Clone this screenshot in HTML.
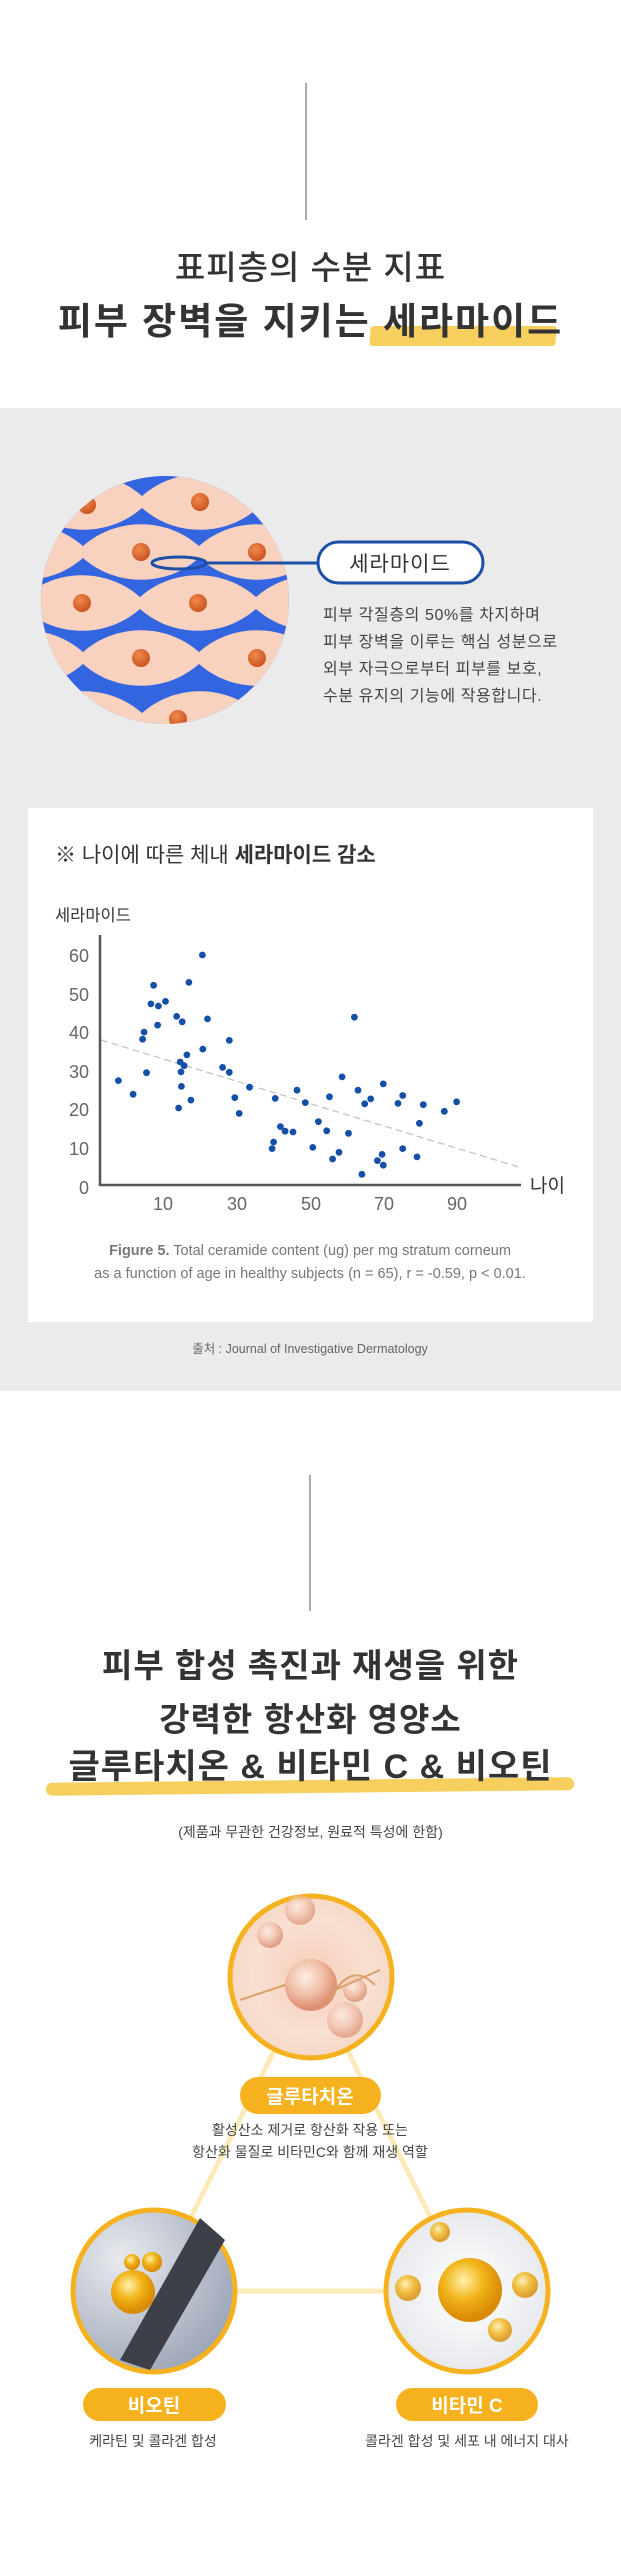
<!DOCTYPE html>
<html><head><meta charset="utf-8">
<style>
*{margin:0;padding:0;box-sizing:border-box}
body{width:621px;height:2560px;position:relative;background:#fff;font-family:"Liberation Sans","Noto Sans CJK KR",sans-serif;color:#333;overflow:hidden}
.a{position:absolute}
.c{position:absolute;left:0;width:621px;text-align:center;white-space:nowrap}
.t{font-weight:700;color:#333}
</style></head><body>
<div class="a" style="left:305px;top:83px;width:2px;height:137px;background:#aaa"></div>
<div class="c t" style="top:248px;font-size:33px;font-weight:500;line-height:40px;letter-spacing:1px">표피층의 수분 지표</div>
<div class="a" style="left:370px;top:326px;width:186px;height:20px;background:#f7cf5e;transform:skewX(-4deg);border-radius:3px"></div>
<div class="c t" style="top:300px;font-size:37px;line-height:44px;letter-spacing:2px">피부 장벽을 지키는 세라마이드</div>

<div class="a" style="left:0;top:408px;width:621px;height:983px;background:#ebebeb"></div>
<svg class="a" style="left:0;top:408px" width="621" height="330" viewBox="0 408 621 330">
<defs><clipPath id="cc"><circle cx="165" cy="600" r="124"/></clipPath>
<radialGradient id="dot" cx="0.4" cy="0.35" r="0.7"><stop offset="0" stop-color="#f08a4b"/><stop offset="1" stop-color="#c8501f"/></radialGradient>
<path id="eye" d="M-64,0 C-30,-37 30,-37 64,0 C30,37 -30,37 -64,0Z" fill="#f9d2bf"/></defs>
<g clip-path="url(#cc)">
<rect x="0" y="470" width="330" height="260" fill="#3465e0"/>
<use href="#eye" x="141" y="447"/><use href="#eye" x="257" y="447"/><use href="#eye" x="25" y="447"/>
<use href="#eye" x="84" y="502"/><use href="#eye" x="200" y="502"/><use href="#eye" x="316" y="502"/>
<use href="#eye" x="25" y="552"/><use href="#eye" x="141" y="552"/><use href="#eye" x="257" y="552"/>
<use href="#eye" x="-34" y="603"/><use href="#eye" x="82" y="603"/><use href="#eye" x="198" y="603"/><use href="#eye" x="314" y="603"/>
<use href="#eye" x="25" y="658"/><use href="#eye" x="141" y="658"/><use href="#eye" x="257" y="658"/>
<use href="#eye" x="84" y="719"/><use href="#eye" x="200" y="719"/><use href="#eye" x="316" y="719"/>
<g fill="url(#dot)">
<circle cx="200" cy="502" r="9"/><circle cx="87" cy="505" r="9"/>
<circle cx="141" cy="552" r="9"/><circle cx="257" cy="552" r="9"/>
<circle cx="82" cy="603" r="9"/><circle cx="198" cy="603" r="9"/>
<circle cx="141" cy="658" r="9"/><circle cx="257" cy="658" r="9"/>
<circle cx="178" cy="719" r="9"/></g>
</g>
<ellipse cx="179" cy="563" rx="27" ry="6" fill="none" stroke="#1d4fa8" stroke-width="3"/>
<line x1="206" y1="563" x2="318" y2="563" stroke="#1d4fa8" stroke-width="3"/>
<rect x="318" y="542" width="165" height="41" rx="20.5" fill="#fff" stroke="#1d4fa8" stroke-width="3"/>
<text x="400" y="571" text-anchor="middle" font-size="21" fill="#333" font-family="Liberation Sans, Noto Sans CJK KR, sans-serif" letter-spacing="1">세라마이드</text>
</svg>
<div class="a" style="left:323px;top:602px;font-size:16px;line-height:27px;color:#444;white-space:nowrap;letter-spacing:0.6px">피부 각질층의 50%를 차지하며<br>피부 장벽을 이루는 핵심 성분으로<br>외부 자극으로부터 피부를 보호,<br>수분 유지의 기능에 작용합니다.</div>

<div class="a" style="left:28px;top:808px;width:565px;height:514px;background:#fff"></div>
<svg class="a" style="left:0;top:800px" width="621" height="600" viewBox="0 0 621 600" font-family="Liberation Sans, Noto Sans CJK KR, sans-serif">
<text x="55" y="62" font-size="21" fill="#333">※ 나이에 따른 체내 <tspan font-weight="700">세라마이드 감소</tspan></text>
<text x="55" y="121" font-size="16.5" fill="#333">세라마이드</text>
<line x1="101" y1="240" x2="522" y2="368" stroke="#c4c4c4" stroke-width="1.3" stroke-dasharray="7,4"/>
<polyline points="100,135 100,385 521,385" fill="none" stroke="#555" stroke-width="2.5"/>
<g font-size="18" fill="#666" text-anchor="end">
<text x="89" y="162">60</text><text x="89" y="201">50</text><text x="89" y="239">40</text><text x="89" y="278">30</text><text x="89" y="316">20</text><text x="89" y="355">10</text><text x="89" y="394">0</text></g>
<g font-size="18" fill="#666" text-anchor="middle">
<text x="163" y="410">10</text><text x="237" y="410">30</text><text x="311" y="410">50</text><text x="384" y="410">70</text><text x="457" y="410">90</text></g>
<text x="530" y="392" font-size="19" fill="#333">나이</text>
<g fill="#1450a8">
<circle cx="118.4" cy="280.6" r="3.4"/><circle cx="133.1" cy="294.3" r="3.4"/><circle cx="142.6" cy="239.2" r="3.4"/><circle cx="144.1" cy="232.1" r="3.4"/><circle cx="146.5" cy="272.7" r="3.4"/><circle cx="150.9" cy="203.9" r="3.4"/><circle cx="153.6" cy="185.3" r="3.4"/><circle cx="158.4" cy="206" r="3.4"/><circle cx="157.6" cy="225.1" r="3.4"/><circle cx="165.5" cy="201.4" r="3.4"/><circle cx="176.6" cy="216.4" r="3.4"/><circle cx="182.2" cy="221.8" r="3.4"/><circle cx="178.6" cy="308" r="3.4"/><circle cx="180.2" cy="262" r="3.4"/><circle cx="181" cy="271.9" r="3.4"/><circle cx="181.4" cy="286.4" r="3.4"/><circle cx="184.1" cy="265.7" r="3.4"/><circle cx="186.9" cy="254.9" r="3.4"/><circle cx="188.9" cy="182.4" r="3.4"/><circle cx="190.9" cy="300.1" r="3.4"/><circle cx="202.4" cy="155" r="3.4"/><circle cx="202.8" cy="249.1" r="3.4"/><circle cx="207.5" cy="218.9" r="3.4"/><circle cx="222.6" cy="267.4" r="3.4"/><circle cx="229.3" cy="240.4" r="3.4"/><circle cx="229.3" cy="272.3" r="3.4"/><circle cx="234.8" cy="297.6" r="3.4"/><circle cx="239.2" cy="313.4" r="3.4"/><circle cx="249.5" cy="287.2" r="3.4"/><circle cx="272.1" cy="348.6" r="3.4"/><circle cx="273.6" cy="342" r="3.4"/><circle cx="275.2" cy="298.4" r="3.4"/><circle cx="280.4" cy="326.6" r="3.4"/><circle cx="285.1" cy="331.2" r="3.4"/><circle cx="293" cy="332" r="3.4"/><circle cx="297" cy="290.2" r="3.4"/><circle cx="305.3" cy="302.6" r="3.4"/><circle cx="312.8" cy="347.4" r="3.4"/><circle cx="318.4" cy="321.7" r="3.4"/><circle cx="326.7" cy="330.8" r="3.4"/><circle cx="329.5" cy="296.8" r="3.4"/><circle cx="332.6" cy="359" r="3.4"/><circle cx="339" cy="352.3" r="3.4"/><circle cx="342.1" cy="276.9" r="3.4"/><circle cx="348.5" cy="333.3" r="3.4"/><circle cx="354.4" cy="217.2" r="3.4"/><circle cx="358" cy="290.2" r="3.4"/><circle cx="361.9" cy="374.3" r="3.4"/><circle cx="364.7" cy="303.8" r="3.4"/><circle cx="370.7" cy="298.9" r="3.4"/><circle cx="377.4" cy="360.6" r="3.4"/><circle cx="382.1" cy="354.4" r="3.4"/><circle cx="383.3" cy="283.9" r="3.4"/><circle cx="383.3" cy="365.2" r="3.4"/><circle cx="398" cy="303.4" r="3.4"/><circle cx="402.7" cy="295.5" r="3.4"/><circle cx="402.7" cy="348.6" r="3.4"/><circle cx="417" cy="356.9" r="3.4"/><circle cx="419.4" cy="323.3" r="3.4"/><circle cx="423.3" cy="304.7" r="3.4"/><circle cx="444.3" cy="311.3" r="3.4"/><circle cx="456.6" cy="301.8" r="3.4"/>
</g>
<g font-size="14.5" fill="#777" text-anchor="middle">
<text x="310" y="455"><tspan font-weight="700">Figure 5.</tspan> Total ceramide content (ug) per mg stratum corneum</text>
<text x="310" y="478">as a function of age in healthy subjects (n = 65), r = -0.59, p &lt; 0.01.</text>
</g>
<text x="310" y="553" font-size="12.5" fill="#666" text-anchor="middle">출처 : Journal of Investigative Dermatology</text>
</svg>

<div class="a" style="left:309px;top:1475px;width:2px;height:136px;background:#aaa"></div>
<div class="c t" style="top:1639px;font-size:33px;line-height:54px;letter-spacing:1px">피부 합성 촉진과 재생을 위한<br>강력한 항산화 영양소</div>
<div class="a" style="left:46px;top:1780px;width:528px;height:13px;background:#f7cf5e;border-radius:6px;transform:rotate(-0.6deg)"></div>
<div class="c t" style="top:1747px;font-size:34px;line-height:40px;letter-spacing:1px">글루타치온 &amp; 비타민 C &amp; 비오틴</div>
<div class="c" style="top:1822px;font-size:14px;line-height:20px;color:#444">(제품과 무관한 건강정보, 원료적 특성에 한함)</div>

<svg class="a" style="left:0;top:1880px" width="621" height="600" viewBox="0 1880 621 600">
<defs>
<radialGradient id="g1" cx="0.5" cy="0.5" r="0.6"><stop offset="0" stop-color="#f7cdb8"/><stop offset="0.6" stop-color="#f8e0d3"/><stop offset="1" stop-color="#f5d3bf"/></radialGradient>
<radialGradient id="g2" cx="0.3" cy="0.3" r="0.8"><stop offset="0" stop-color="#e8eaee"/><stop offset="1" stop-color="#9aa3b5"/></radialGradient>
<radialGradient id="g3" cx="0.5" cy="0.5" r="0.6"><stop offset="0" stop-color="#fff"/><stop offset="1" stop-color="#e3e5ea"/></radialGradient>
<radialGradient id="gold" cx="0.4" cy="0.35" r="0.6"><stop offset="0" stop-color="#fff3b0"/><stop offset="0.5" stop-color="#f2b51a"/><stop offset="1" stop-color="#d98b05"/></radialGradient>
<radialGradient id="pk" cx="0.4" cy="0.35" r="0.6"><stop offset="0" stop-color="#fff2ec"/><stop offset="0.6" stop-color="#efb9a0"/><stop offset="1" stop-color="#d9876a"/></radialGradient>
</defs>
<g stroke="#fcebb8" stroke-width="5"><line x1="311" y1="1977" x2="154" y2="2291"/><line x1="311" y1="1977" x2="467" y2="2291"/><line x1="154" y1="2291" x2="467" y2="2291"/></g>
<circle cx="311" cy="1977" r="81" fill="url(#g1)" stroke="#f5b21e" stroke-width="5"/>
<circle cx="311" cy="1985" r="26" fill="url(#pk)" opacity="0.9"/><circle cx="270" cy="1935" r="13" fill="url(#pk)" opacity="0.7"/><circle cx="355" cy="1990" r="12" fill="url(#pk)" opacity="0.7"/><circle cx="345" cy="2020" r="18" fill="url(#pk)" opacity="0.6"/><circle cx="300" cy="1910" r="15" fill="url(#pk)" opacity="0.6"/>
<path d="M240,2000 L285,1985 M335,1990 L380,1970 M330,2000 Q350,1960 375,1985" stroke="#d9a06a" stroke-width="2" fill="none"/>
<circle cx="154" cy="2291" r="81" fill="url(#g2)" stroke="#f5b21e" stroke-width="5"/>
<path d="M200,2218 L225,2240 L150,2370 L120,2360 Z" fill="#3d4048"/>
<circle cx="133" cy="2292" r="22" fill="url(#gold)"/><circle cx="132" cy="2262" r="8" fill="url(#gold)"/><circle cx="152" cy="2262" r="10" fill="url(#gold)"/>
<circle cx="467" cy="2291" r="81" fill="url(#g3)" stroke="#f5b21e" stroke-width="5"/>
<circle cx="470" cy="2290" r="32" fill="url(#gold)"/><circle cx="408" cy="2288" r="13" fill="url(#gold)" opacity="0.8"/><circle cx="525" cy="2285" r="13" fill="url(#gold)" opacity="0.8"/><circle cx="440" cy="2232" r="10" fill="url(#gold)" opacity="0.8"/><circle cx="500" cy="2330" r="12" fill="url(#gold)" opacity="0.8"/>
<g font-family="Liberation Sans, Noto Sans CJK KR, sans-serif" font-weight="700" font-size="19" fill="#fff" text-anchor="middle">
<rect x="240" y="2077" width="141" height="37" rx="18.5" fill="#f5b21e"/><text x="310" y="2103">글루타치온</text>
<rect x="83" y="2388" width="143" height="33" rx="16.5" fill="#f5b21e"/><text x="154" y="2412">비오틴</text>
<rect x="396" y="2388" width="142" height="33" rx="16.5" fill="#f5b21e"/><text x="467" y="2412">비타민 C</text>
</g>
<g font-family="Liberation Sans, Noto Sans CJK KR, sans-serif" font-size="14" fill="#444" text-anchor="middle">
<text x="310" y="2135">활성산소 제거로 항산화 작용 또는</text>
<text x="310" y="2157">항산화 물질로 비타민C와 함께 재생 역할</text>
<text x="153" y="2446">케라틴 및 콜라겐 합성</text>
<text x="467" y="2446">콜라겐 합성 및 세포 내 에너지 대사</text>
</g>
</svg>
</body></html>
